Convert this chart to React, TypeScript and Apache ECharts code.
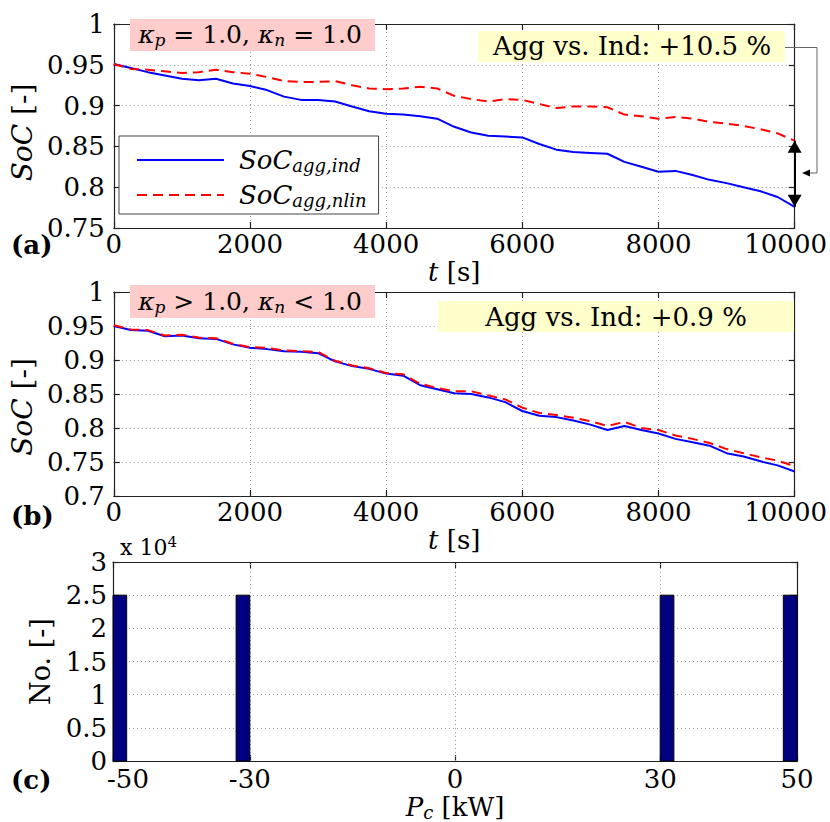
import React, { useEffect, useRef } from 'react';
import * as echarts from 'echarts';

const FONT = 'DejaVu Serif';

// time axis (s)
const timeS = [0, 250, 500, 750, 1000, 1250, 1500, 1750, 2000, 2250, 2500, 2750, 3000, 3250, 3500, 3750, 4000, 4250, 4500, 4750, 5000, 5250, 5500, 5750, 6000, 6250, 6500, 6750, 7000, 7250, 7500, 7750, 8000, 8250, 8500, 8750, 9000, 9250, 9500, 9750, 10000];

// panel (a): kappa_p = 1.0, kappa_n = 1.0
const socIndA = [0.951, 0.946, 0.941, 0.937, 0.933, 0.931, 0.933, 0.927, 0.924, 0.919, 0.911, 0.907, 0.907, 0.905, 0.899, 0.893, 0.890, 0.889, 0.887, 0.884, 0.874, 0.867, 0.863, 0.862, 0.861, 0.853, 0.846, 0.843, 0.842, 0.841, 0.831, 0.825, 0.819, 0.820, 0.815, 0.809, 0.805, 0.800, 0.795, 0.788, 0.776];
const socNlinA = [0.951, 0.945, 0.944, 0.942, 0.940, 0.941, 0.944, 0.941, 0.939, 0.935, 0.930, 0.929, 0.929, 0.930, 0.925, 0.921, 0.920, 0.921, 0.923, 0.921, 0.912, 0.908, 0.905, 0.908, 0.907, 0.902, 0.897, 0.899, 0.899, 0.898, 0.889, 0.887, 0.884, 0.886, 0.884, 0.880, 0.878, 0.875, 0.871, 0.866, 0.857];

// panel (b): kappa_p > 1.0, kappa_n < 1.0
const socIndB = [0.950, 0.944, 0.943, 0.935, 0.936, 0.932, 0.931, 0.923, 0.918, 0.916, 0.913, 0.912, 0.910, 0.898, 0.891, 0.887, 0.880, 0.877, 0.863, 0.857, 0.851, 0.850, 0.845, 0.838, 0.825, 0.818, 0.816, 0.811, 0.805, 0.797, 0.803, 0.797, 0.792, 0.784, 0.779, 0.774, 0.763, 0.758, 0.751, 0.745, 0.736];
const socNlinB = [0.951, 0.945, 0.944, 0.936, 0.937, 0.933, 0.932, 0.924, 0.919, 0.918, 0.914, 0.913, 0.912, 0.899, 0.892, 0.888, 0.881, 0.879, 0.865, 0.859, 0.854, 0.854, 0.848, 0.842, 0.830, 0.822, 0.819, 0.815, 0.810, 0.803, 0.809, 0.800, 0.797, 0.789, 0.784, 0.778, 0.769, 0.763, 0.757, 0.752, 0.744];

// panel (c): histogram of Pc
const binLeftKW = [-50, -32, 30, 48];
const binRightKW = [-48, -30, 32, 50];
const binCounts = [25000, 25000, 25000, 25000];
const countScale = 10000;
const pTickValues = [-50, -30, 0, 30, 50];
const pGridValues = [-30, 0, 30];

const SERIES_IND = 'SoC_agg,ind';
const SERIES_NLIN = 'SoC_agg,nlin';

const TICK = 26;

const txt = (size: number, italic = false, extra: any = {}) => ({
  fontFamily: FONT,
  fontSize: size,
  fontStyle: italic ? 'italic' : 'normal',
  color: '#000',
  ...extra,
});

const gridLine = { show: true, lineStyle: { color: '#9a9a9a', type: [1, 3], width: 1 } };
const axisLine = { show: true, onZero: false, lineStyle: { color: '#222', width: 1.2 } };
const axisTick = { show: true, inside: true, length: 6, lineStyle: { color: '#222', width: 1.2 } };
const numFmt = (v: number) => String(+Number(v).toFixed(4));

function buildOption() {
  const pairs = (ys: number[]) => timeS.map((t, i) => [t, ys[i]]);
  const lastT = timeS[timeS.length - 1];

  const xBottom = (gi: number) => ({
    gridIndex: gi,
    type: 'value',
    min: 0,
    max: 10000,
    interval: 2000,
    axisLine,
    axisTick,
    axisLabel: {
      ...txt(TICK),
      margin: 3,
      formatter: (v: number) => (v === 10000 ? `{r|${numFmt(v)}}` : numFmt(v)),
      rich: { r: txt(TICK, false, { padding: [0, 18, 0, 0] }) },
    },
    splitLine: gridLine,
    name: '{i|t} [s]',
    nameLocation: 'middle',
    nameGap: 26,
    nameTextStyle: { ...txt(26), lineHeight: 28, rich: { i: txt(26, true, { lineHeight: 28 }) } },
  });
  const xTop = (gi: number) => ({
    gridIndex: gi,
    type: 'value',
    position: 'top',
    min: 0,
    max: 10000,
    interval: 2000,
    axisLine,
    axisTick,
    axisLabel: { show: false },
    splitLine: { show: false },
  });
  const ySoc = (gi: number, min: number, pad: number) => ({
    gridIndex: gi,
    type: 'value',
    min,
    max: 1,
    interval: 0.05,
    axisLine,
    axisTick,
    axisLabel: { ...txt(TICK), margin: 9, formatter: numFmt },
    splitLine: gridLine,
    name: '{i|SoC} [-]',
    nameLocation: 'middle',
    nameGap: 63,
    nameTextStyle: { ...txt(28), lineHeight: 28, padding: [0, pad, 0, 0], rich: { i: txt(28, true, { lineHeight: 28 }) } },
  });
  const yRight = (gi: number, min: number, max: number, interval: number) => ({
    gridIndex: gi,
    type: 'value',
    position: 'right',
    min,
    max,
    interval,
    axisLine,
    axisTick,
    axisLabel: { show: false },
    splitLine: { show: false },
  });

  const lineSeries = (name: string, xi: number, ys: number[], dashed: boolean, extra: any = {}) => ({
    name,
    type: 'line',
    xAxisIndex: xi,
    yAxisIndex: xi,
    data: pairs(ys),
    symbol: 'none',
    showSymbol: false,
    lineStyle: { color: dashed ? '#ff0000' : '#0000ff', width: 2, type: dashed ? [10, 6] : 'solid' },
    itemStyle: { color: dashed ? '#ff0000' : '#0000ff' },
    emphasis: { disabled: true },
    ...extra,
  });

  const binData = binLeftKW.map((l, i) => [l, binRightKW[i], binCounts[i] / countScale]);

  const boxText = (text: string, x: number, y: number, size: number, rich?: any) => ({
    type: 'text',
    x,
    y,
    z: 101,
    style: {
      text,
      fontFamily: FONT,
      fontSize: size,
      fill: '#000',
      align: 'center',
      verticalAlign: 'middle',
      textAlign: 'center',
      textVerticalAlign: 'middle',
      rich,
    },
  });
  const kRich = {
    k: { fontFamily: FONT, fontSize: 25, fontStyle: 'italic', lineHeight: 28, fill: '#000', color: '#000' },
    s: { fontFamily: FONT, fontSize: 17, fontStyle: 'italic', lineHeight: 10, verticalAlign: 'bottom', fill: '#000', color: '#000' },
    t: { fontFamily: FONT, fontSize: 25, fontStyle: 'normal', lineHeight: 28, fill: '#000', color: '#000' },
  };
  const letter = (text: string, y: number) => ({
    type: 'text',
    x: 11,
    y,
    z: 101,
    style: {
      text,
      fontFamily: FONT,
      fontSize: 26,
      fontWeight: 'bold',
      fill: '#000',
      align: 'left',
      verticalAlign: 'middle',
      textAlign: 'left',
      textVerticalAlign: 'middle',
    },
  });

  return {
    animation: false,
    backgroundColor: '#ffffff',
    grid: [
      { left: 111, top: 24, width: 686, height: 204, show: false },
      { left: 111, top: 292, width: 686, height: 204, show: false },
      { left: 113, top: 562, width: 684, height: 203, show: false },
    ],
    legend: {
      show: true,
      orient: 'vertical',
      left: 119,
      top: 136,
      data: [SERIES_IND, SERIES_NLIN],
      itemWidth: 87,
      itemHeight: 14,
      itemGap: 7,
      padding: [10, 12, 5, 17],
      backgroundColor: '#ffffff',
      borderColor: '#444',
      borderWidth: 1,
      selectedMode: false,
      itemStyle: { opacity: 0, color: 'transparent', borderColor: 'transparent', borderWidth: 0 },
      formatter: (name: string) => {
        const [main, sub] = name.split('_');
        return `{m|${main}}{s|${sub}}`;
      },
      textStyle: {
        ...txt(26, true),
        lineHeight: 28,
        rich: {
          m: txt(26, true, { lineHeight: 28, padding: [0, 0, 0, 10] }),
          s: txt(18, true, { lineHeight: 9, verticalAlign: 'bottom' }),
        },
      },
    },
    xAxis: [
      xBottom(0),
      xBottom(1),
      {
        gridIndex: 2,
        type: 'value',
        min: -50,
        max: 50,
        axisLine,
        axisTick: { ...axisTick, customValues: pTickValues },
        axisLabel: {
          ...txt(TICK),
          margin: 5,
          customValues: pTickValues,
          formatter: (v: number) => (v === pTickValues[0] ? `{m|${numFmt(v)}}` : numFmt(v)),
          rich: { m: txt(TICK, false, { padding: [0, 0, 0, 30] }) },
        },
        splitLine: { show: false },
        name: '{i|P}{s|c} [kW]',
        nameLocation: 'middle',
        nameGap: 21,
        nameTextStyle: {
          ...txt(26),
          lineHeight: 28,
          rich: { i: txt(26, true, { lineHeight: 28 }), s: txt(18, true, { lineHeight: 9, verticalAlign: 'bottom' }) },
        },
      },
      xTop(0),
      xTop(1),
      {
        gridIndex: 2,
        type: 'value',
        position: 'top',
        min: -50,
        max: 50,
        axisLine,
        axisTick: { ...axisTick, customValues: pTickValues },
        axisLabel: { show: false, customValues: pTickValues },
        splitLine: { show: false },
      },
    ],
    yAxis: [
      ySoc(0, 0.75, 13),
      ySoc(1, 0.7, 26),
      {
        gridIndex: 2,
        type: 'value',
        min: 0,
        max: 3,
        interval: 0.5,
        axisLine,
        axisTick,
        axisLabel: { ...txt(TICK), margin: 6, formatter: numFmt },
        splitLine: gridLine,
        name: 'No. [-]',
        nameLocation: 'middle',
        nameGap: 54,
        nameTextStyle: { ...txt(27), lineHeight: 28 },
      },
      yRight(0, 0.75, 1, 0.05),
      yRight(1, 0.7, 1, 0.05),
      yRight(2, 0, 3, 0.5),
    ],
    series: [
      lineSeries(SERIES_IND, 0, socIndA, false),
      lineSeries(SERIES_NLIN, 0, socNlinA, true, {
        markLine: {
          silent: true,
          symbol: ['triangle', 'triangle'],
          symbolSize: [14, 12],
          symbolOffset: [[0, 6], [0, 6]],
          label: { show: false },
          emphasis: { disabled: true },
          lineStyle: { color: '#000', width: 2, type: 'solid' },
          itemStyle: { color: '#000' },
          data: [[{ coord: [lastT, socNlinA[socNlinA.length - 1]] }, { coord: [lastT, socIndA[socIndA.length - 1]] }]],
        },
      }),
      lineSeries(SERIES_IND, 1, socIndB, false),
      lineSeries(SERIES_NLIN, 1, socNlinB, true),
      {
        name: 'Pc histogram',
        type: 'custom',
        xAxisIndex: 2,
        yAxisIndex: 2,
        data: binData,
        encode: { x: [0, 1], y: 2 },
        renderItem: (_params: any, api: any) => {
          const p0 = api.coord([api.value(0), api.value(2)]);
          const p1 = api.coord([api.value(1), 0]);
          return {
            type: 'rect',
            shape: { x: p0[0], y: p0[1], width: p1[0] - p0[0], height: p1[1] - p0[1] },
            style: { fill: '#000080', stroke: '#000', lineWidth: 1 },
          };
        },
        markLine: {
          silent: true,
          symbol: 'none',
          z: 1,
          label: { show: false },
          emphasis: { disabled: true },
          lineStyle: { color: '#9a9a9a', type: [1, 3], width: 1 },
          data: pGridValues.map((v) => ({ xAxis: v })),
        },
      },
    ],
    graphic: [
      { type: 'rect', z: 100, shape: { x: 130, y: 19, width: 245, height: 32 }, style: { fill: '#ffcccc' } },
      boxText('{k|κ}{s|p}{t| = 1.0, }{k|κ}{s|n}{t| = 1.0}', 250, 34, 25, kRich),
      { type: 'rect', z: 100, shape: { x: 478, y: 31, width: 307, height: 31 }, style: { fill: '#ffffcc' } },
      boxText('Agg vs. Ind: +10.5 %', 632, 46, 26),
      {
        type: 'polyline',
        z: 100,
        shape: { points: [[785, 47.5], [817, 47.5], [817, 173], [808, 173]] },
        style: { stroke: '#666', lineWidth: 1, fill: null },
      },
      { type: 'polygon', z: 100, shape: { points: [[802, 173], [810, 169.5], [810, 176.5]] }, style: { fill: '#000' } },
      { type: 'rect', z: 100, shape: { x: 130, y: 285, width: 245, height: 33 }, style: { fill: '#ffcccc' } },
      boxText('{k|κ}{s|p}{t| > 1.0, }{k|κ}{s|n}{t| < 1.0}', 250, 301, 25, kRich),
      { type: 'rect', z: 100, shape: { x: 438, y: 301, width: 356, height: 31 }, style: { fill: '#ffffcc' } },
      boxText('Agg vs. Ind: +0.9 %', 616, 317, 26),
      letter('(a)', 245),
      letter('(b)', 516),
      letter('(c)', 780),
      {
        type: 'text',
        x: 120,
        y: 547,
        z: 101,
        style: {
          text: '{a|x 10}{b|4}',
          fill: '#000',
          fontFamily: FONT,
          fontSize: 22,
          align: 'left',
          verticalAlign: 'middle',
          textAlign: 'left',
          textVerticalAlign: 'middle',
          rich: {
            a: { fontFamily: FONT, fontSize: 22, lineHeight: 26, fill: '#000', color: '#000' },
            b: { fontFamily: FONT, fontSize: 15, lineHeight: 12, verticalAlign: 'top', fill: '#000', color: '#000' },
          },
        },
      },
    ],
  };
}

export default function App() {
  const ref = useRef<HTMLDivElement>(null);
  useEffect(() => {
    if (!ref.current) return;
    const chart = echarts.init(ref.current, null, { renderer: 'svg' });
    chart.setOption(buildOption() as any);
    return () => chart.dispose();
  }, []);
  return (
    <div
      ref={ref}
      style={{ position: 'absolute', left: 0, top: 0, width: 830, height: 822, background: '#fff' }}
    />
  );
}
